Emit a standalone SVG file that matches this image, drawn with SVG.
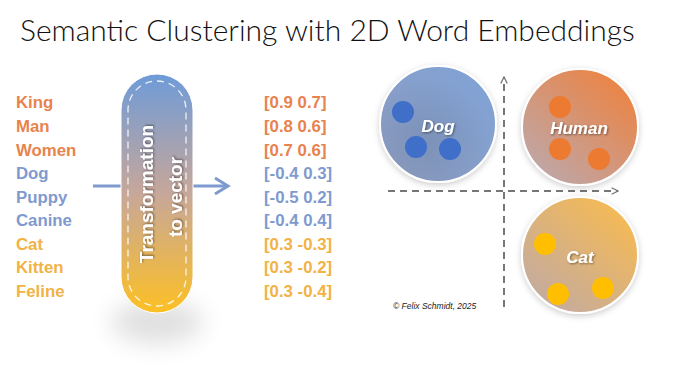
<svg xmlns="http://www.w3.org/2000/svg" width="700" height="381" viewBox="0 0 700 381">
<style>
.t{font-family:"Liberation Sans",Arial,sans-serif}
.w{font-weight:bold;font-size:16.8px}
.o{fill:#E8834E}.b{fill:#7F9ACF}.y{fill:#F2B245}
.lbl{font-family:"Liberation Sans",Arial,sans-serif;font-weight:bold;font-style:italic;font-size:17px;fill:#fff;text-anchor:middle;filter:url(#ts)}
.ax{stroke:#767676;stroke-width:2;stroke-dasharray:7 5;fill:none}
.dotb{fill:#3F6FC8}.doto{fill:#EC7A30}.doty{fill:#FFBF00}
.circ{stroke:#fff;stroke-width:2;filter:url(#ds)}
</style>
<defs>
<linearGradient id="pill" x1="0" y1="0" x2="0" y2="1">
<stop offset="0" stop-color="#6E9BD8"/><stop offset="0.5" stop-color="#C7A79A"/><stop offset="1" stop-color="#FCC024"/>
</linearGradient>
<linearGradient id="gDog" x1="0" y1="1" x2="1" y2="0">
<stop offset="0" stop-color="#8E9CBE"/><stop offset="1" stop-color="#7FA3D8"/>
</linearGradient>
<linearGradient id="gHum" x1="0.15" y1="0.9" x2="0.85" y2="0.1">
<stop offset="0" stop-color="#BFA6A6"/><stop offset="1" stop-color="#EB8445"/>
</linearGradient>
<linearGradient id="gCat" x1="0.15" y1="0.9" x2="0.85" y2="0.1">
<stop offset="0" stop-color="#C4AB9F"/><stop offset="1" stop-color="#F5BA55"/>
</linearGradient>
<radialGradient id="inner" cx="0.4" cy="0.65" r="0.55">
<stop offset="0" stop-color="#5a6a8a" stop-opacity="0.25"/><stop offset="1" stop-color="#5a6a8a" stop-opacity="0"/>
</radialGradient>
<filter id="ds" x="-20%" y="-20%" width="140%" height="140%">
<feDropShadow dx="0" dy="2" stdDeviation="3" flood-color="#000" flood-opacity="0.2"/>
</filter>
<filter id="ts" x="-20%" y="-30%" width="140%" height="160%">
<feDropShadow dx="1" dy="1" stdDeviation="1" flood-color="#000" flood-opacity="0.45"/>
</filter>
<filter id="blur" x="-80%" y="-80%" width="260%" height="260%">
<feGaussianBlur stdDeviation="12"/>
</filter>
<marker id="ah" viewBox="0 0 10 10" refX="9" refY="5" markerWidth="8" markerHeight="8" orient="auto" markerUnits="userSpaceOnUse">
<path d="M1,1 L9,5 L1,9" fill="none" stroke="#767676" stroke-width="1.6"/>
</marker>
</defs>

<text x="20" y="41" font-family="Lato,'Liberation Sans',Arial,sans-serif" font-weight="300" font-size="30" fill="#111">Semantic Clustering with 2D Word Embeddings</text>

<g id="words" class="t w">
<text x="16" y="108" class="o">King</text>
<text x="16" y="132" class="o">Man</text>
<text x="16" y="156" class="o">Women</text>
<text x="16" y="179" class="b">Dog</text>
<text x="16" y="203" class="b">Puppy</text>
<text x="16" y="226" class="b">Canine</text>
<text x="16" y="250" class="y">Cat</text>
<text x="16" y="273" class="y">Kitten</text>
<text x="16" y="297" class="y">Feline</text>
</g>

<g id="connectors">
<line x1="93" y1="186" x2="121" y2="186" stroke="#7F9ACF" stroke-width="3"/>
<line x1="193" y1="186" x2="227" y2="186" stroke="#7F9ACF" stroke-width="3"/>
<path d="M215,178 L228,186 L215,194" fill="none" stroke="#7F9ACF" stroke-width="3" stroke-linejoin="miter"/>
</g>

<g id="transform">
<ellipse cx="157" cy="322" rx="46" ry="22" fill="#000" opacity="0.12" filter="url(#blur)"/>
<rect x="121" y="74" width="72" height="239" rx="36" ry="36" fill="url(#pill)" stroke="#fff" stroke-width="1"/>
<rect x="128" y="81" width="58" height="225" rx="29" ry="29" fill="none" stroke="#fff" stroke-opacity="0.85" stroke-width="1.3" stroke-dasharray="7 5"/>
<text class="t" transform="translate(153,194) rotate(-90)" text-anchor="middle" font-size="19" font-weight="bold" fill="#fff" filter="url(#ts)">Transformation</text>
<text class="t" transform="translate(182,197) rotate(-90)" text-anchor="middle" font-size="19" font-weight="bold" fill="#fff" filter="url(#ts)">to vector</text>
</g>

<g id="vectors" class="t w">
<text x="264" y="108" class="o">[0.9 0.7]</text>
<text x="264" y="132" class="o">[0.8 0.6]</text>
<text x="264" y="156" class="o">[0.7 0.6]</text>
<text x="264" y="179" class="b">[-0.4 0.3]</text>
<text x="264" y="203" class="b">[-0.5 0.2]</text>
<text x="264" y="226" class="b">[-0.4 0.4]</text>
<text x="264" y="250" class="y">[0.3 -0.3]</text>
<text x="264" y="273" class="y">[0.3 -0.2]</text>
<text x="264" y="297" class="y">[0.3 -0.4]</text>
</g>

<g id="axes">
<line class="ax" x1="504" y1="307" x2="504" y2="77" marker-end="url(#ah)"/>
<line class="ax" x1="388" y1="191" x2="618" y2="191" marker-end="url(#ah)"/>
</g>

<g id="dog">
<circle class="circ" cx="438" cy="124" r="58" fill="url(#gDog)"/>
<circle cx="438" cy="124" r="57" fill="url(#inner)"/>
<circle class="dotb" cx="403" cy="112" r="11"/>
<circle class="dotb" cx="416" cy="147" r="11"/>
<circle class="dotb" cx="450" cy="149" r="11"/>
<text class="lbl" x="438" y="132">Dog</text>
</g>

<g id="human">
<circle class="circ" cx="580" cy="127" r="58" fill="url(#gHum)"/>
<circle class="doto" cx="560" cy="107" r="11"/>
<circle class="doto" cx="560" cy="149" r="11"/>
<circle class="doto" cx="599" cy="159" r="11"/>
<text class="lbl" x="579" y="134">Human</text>
</g>

<g id="cat">
<circle class="circ" cx="580" cy="255" r="58" fill="url(#gCat)"/>
<circle class="doty" cx="545" cy="244" r="11"/>
<circle class="doty" cx="558" cy="294" r="11"/>
<circle class="doty" cx="603" cy="288" r="11"/>
<text class="lbl" x="580" y="263">Cat</text>
</g>

<text class="t" x="393" y="309" font-size="8.5" font-style="italic" fill="#222">© Felix Schmidt, 2025</text>
</svg>
